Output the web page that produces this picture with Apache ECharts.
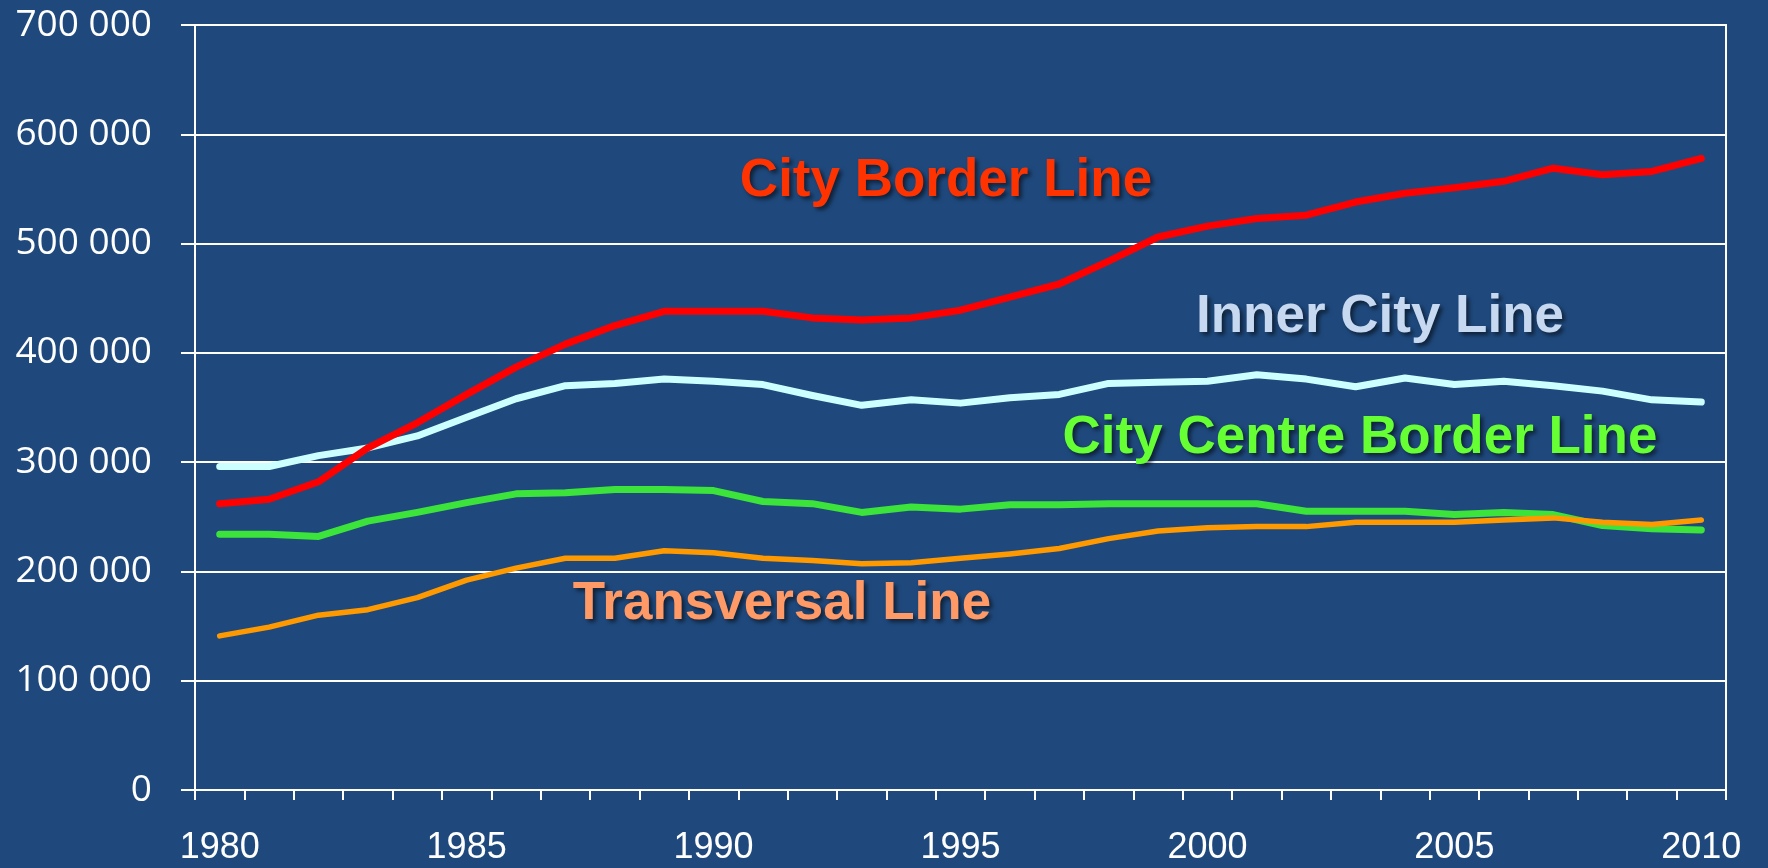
<!DOCTYPE html>
<html>
<head>
<meta charset="utf-8">
<script src="https://cdn.jsdelivr.net/npm/echarts@6/dist/echarts.min.js"></script>
<style>
html,body{margin:0;padding:0;background:#1f497d;}
#chart{width:1768px;height:868px;}
</style>
</head>
<body>
<div id="chart"></div>
<script>
const years = ['1980','1981','1982','1983','1984','1985','1986','1987','1988','1989','1990','1991','1992','1993','1994','1995','1996','1997','1998','1999','2000','2001','2002','2003','2004','2005','2006','2007','2008','2009','2010'];

const cityBorderLine = [262000,266000,282000,313000,336000,362000,387000,408000,425000,438000,438000,438000,432000,430000,432000,439000,451000,463000,484000,506000,516000,523000,526000,538000,546000,551000,557000,569000,563000,566000,578000];
const innerCityLine = [296000,296000,306000,313000,324000,341000,358000,370000,372000,376000,374000,371000,361000,352000,357000,354000,359000,362000,372000,373000,374000,380000,376000,369000,377000,371000,374000,370000,365000,357000,355000];
const cityCentreBorderLine = [234000,234000,232000,246000,254000,263000,271000,272000,275000,275000,274000,264000,262000,254000,259000,257000,261000,261000,262000,262000,262000,262000,255000,255000,255000,252000,254000,252000,242000,239000,238000];
const transversalLine = [141000,149000,160000,165000,176000,192000,203000,212000,212000,219000,217000,212000,210000,207000,208000,212000,216000,221000,230000,237000,240000,241000,241000,245000,245000,245000,247000,249000,245000,243000,247000];

const seriesNames = ['City Border Line','Inner City Line','City Centre Border Line','Transversal Line'];

const chart = echarts.init(document.getElementById('chart'));

function fmt(v){ return String(v).replace(/\B(?=(\d{3})+(?!\d))/g,' '); }

function lbl(text, x, y, color){
  return {
    type:'text', x:x, y:y, z:100,
    style:{
      text:text, fill:color,
      font:'bold 53px "Liberation Sans", Arial, sans-serif',
      textAlign:'center', textVerticalAlign:'middle', verticalAlign:'middle',
      textShadowColor:'rgba(0,0,0,0.55)', textShadowBlur:4, textShadowOffsetX:3, textShadowOffsetY:3,
      shadowColor:'rgba(0,0,0,0.55)', shadowBlur:4, shadowOffsetX:3, shadowOffsetY:3
    }
  };
}

function lineSeries(name, data, color, width){
  return {
    name:name, type:'line', data:data, showSymbol:false, symbol:'none',
    lineStyle:{color:color, width:width, cap:'round', join:'round'},
    itemStyle:{color:color}, animation:false
  };
}

chart.setOption({
  backgroundColor:'#1f497d',
  animation:false,
  grid:{left:195, right:42, top:25, bottom:78, show:true, borderColor:'#ffffff', borderWidth:2, backgroundColor:'transparent'},
  xAxis:{
    type:'category', data:years, boundaryGap:true,
    axisLine:{lineStyle:{color:'#ffffff', width:2}},
    axisTick:{show:true, interval:0, length:10, lineStyle:{color:'#ffffff', width:2}},
    axisLabel:{interval:4, color:'#ffffff', fontSize:36, fontFamily:'"Liberation Sans", Arial, sans-serif', margin:40},
    splitLine:{show:false}
  },
  yAxis:{
    type:'value', min:0, max:700000, interval:100000,
    axisLine:{show:true, lineStyle:{color:'#ffffff', width:2}},
    axisTick:{show:true, inside:false, length:14, lineStyle:{color:'#ffffff', width:2}},
    axisLabel:{color:'#ffffff', fontSize:37, fontFamily:'"Open Sans", sans-serif', margin:43, formatter:fmt},
    splitLine:{show:true, lineStyle:{color:'#ffffff', width:2}}
  },
  series:[
    lineSeries(seriesNames[1], innerCityLine, '#ccffff', 7),
    lineSeries(seriesNames[2], cityCentreBorderLine, '#3be33b', 7),
    lineSeries(seriesNames[3], transversalLine, '#ff9900', 5.5),
    lineSeries(seriesNames[0], cityBorderLine, '#ff0000', 7)
  ],
  graphic:[
    lbl(seriesNames[0], 946, 181, '#ff3300'),
    lbl(seriesNames[1], 1380, 317, '#c6d9f1'),
    lbl(seriesNames[2], 1360, 438, '#66ff33'),
    lbl(seriesNames[3], 782, 604, '#ff9966')
  ]
});
</script>
</body>
</html>
